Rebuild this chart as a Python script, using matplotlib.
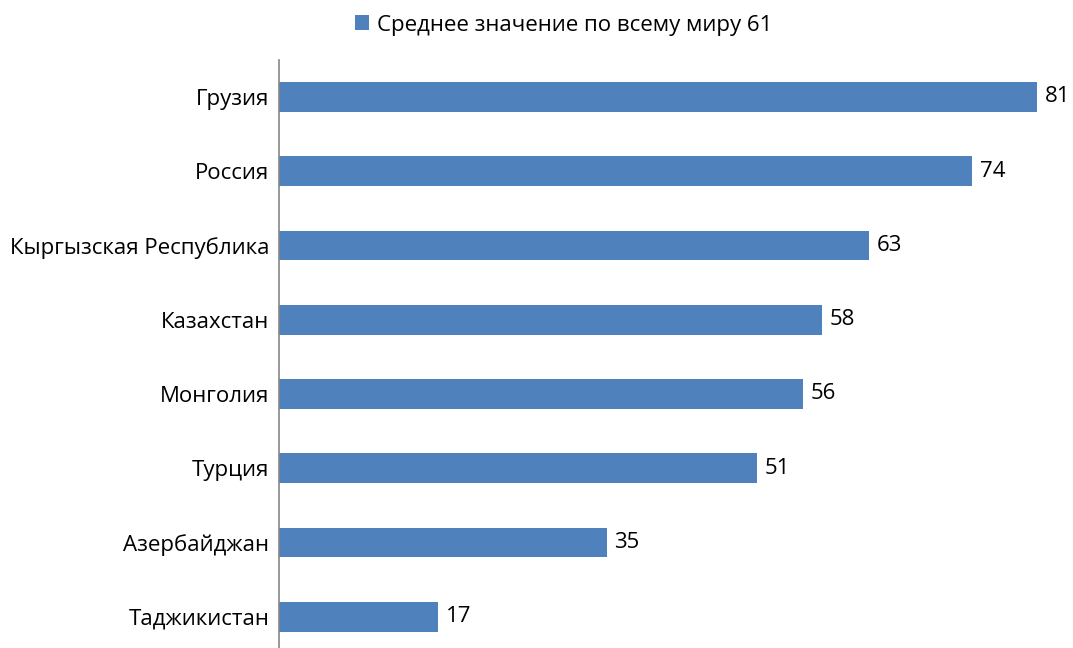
import matplotlib
matplotlib.use("Agg")
import matplotlib.pyplot as plt
from matplotlib.patches import Patch

countries = ["Грузия", "Россия", "Кыргызская Республика", "Казахстан",
             "Монголия", "Турция", "Азербайджан", "Таджикистан"]
values = [81, 74, 63, 58, 56, 51, 35, 17]
legend_label = "Среднее значение по всему миру 61"

bar_color = "#4F81BD"
font = ["Open Sans", "DejaVu Sans"]
plt.rcParams["font.family"] = font

W, H = 1073, 648
fig = plt.figure(figsize=(W / 100, H / 100), dpi=100)
left = 279 / W
top_px, bot_px = 59.7, 654.0
ax = fig.add_axes([left, (H - bot_px) / H, 1 - left, (bot_px - top_px) / H])

ypos = list(range(len(countries)))
ax.barh(ypos, values, height=0.4, color=bar_color)
ax.set_ylim(len(countries) - 0.5, -0.5)
ax.set_xlim(0, 84.8)
ax.set_yticks(ypos)
ax.set_yticklabels(countries, fontsize=16, color="black")
ax.tick_params(axis="y", length=0, pad=7)
ax.set_xticks([])
for s in ["top", "right", "bottom"]:
    ax.spines[s].set_visible(False)
ax.spines["left"].set_color("#868686")
ax.spines["left"].set_linewidth(1.2)

for y, v in zip(ypos, values):
    ax.annotate(str(v), (v, y), xytext=(5.5, 0), textcoords="offset points",
                va="center", ha="left", fontsize=16, color="black")

handle = Patch(facecolor=bar_color, edgecolor="none")
fig.legend([handle], [legend_label], loc="center", bbox_to_anchor=(0.525, 1 - 25 / H),
           frameon=False, fontsize=16, handlelength=0.65, handleheight=0.65,
           handletextpad=0.35)

fig.savefig("out.png", dpi=100)
